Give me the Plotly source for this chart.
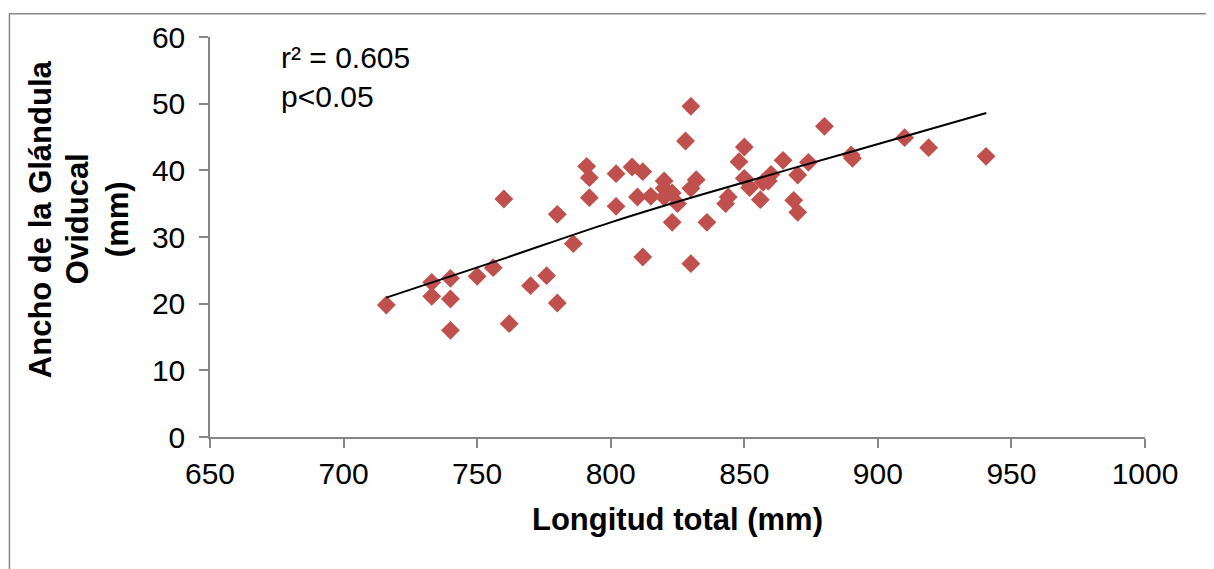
import plotly.graph_objects as go

longitud = [716, 733, 733, 740, 740, 740, 750, 756, 760, 762, 770, 776, 780, 780, 786,
            791, 792, 792, 802, 802, 808, 810, 812, 812, 815, 820, 820, 820, 823, 825,
            823, 828, 830, 830, 830, 832, 836, 843, 844, 848, 850, 850, 852, 856, 857,
            860, 859, 864.5, 868.5, 870, 870, 874, 880, 890, 890.5, 910, 919, 940.5]
ancho = [19.8, 23.2, 21.1, 23.8, 20.7, 16.0, 24.1, 25.4, 35.7, 17.0, 22.7, 24.2, 33.4, 20.1, 29.0,
         40.6, 38.9, 35.9, 39.5, 34.6, 40.5, 36.0, 39.8, 27.0, 36.1, 38.4, 37.3, 36.0, 36.6, 35.0,
         32.2, 44.4, 49.6, 26.0, 37.3, 38.6, 32.2, 35.0, 36.0, 41.3, 43.5, 38.8, 37.4, 35.6, 38.2,
         39.4, 38.4, 41.5, 35.5, 33.7, 39.3, 41.2, 46.6, 42.3, 41.8, 44.9, 43.4, 42.1]

trend_x = [716, 758, 800, 833.5, 890, 940.6]
trend_y = [20.9, 26.5, 32.2, 36.3, 42.8, 48.6]

x_ticks = [650, 700, 750, 800, 850, 900, 950, 1000]
y_ticks = [0, 10, 20, 30, 40, 50, 60]

y_title_lines = ["Ancho de la Glándula", "Oviducal", "(mm)"]
y_title_x = [-0.1818, -0.1422, -0.0995]

FONT = "Liberation Sans, Arial, sans-serif"
AXIS_GRAY = "#868686"

fig = go.Figure()
fig.add_trace(go.Scatter(
    x=longitud, y=ancho, mode="markers",
    marker=dict(symbol="diamond", size=14.5, color="#C0504D", line=dict(width=0)),
    showlegend=False, cliponaxis=False,
))
fig.add_trace(go.Scatter(
    x=trend_x, y=trend_y, mode="lines", line=dict(color="black", width=2, shape="spline"),
    showlegend=False,
))

annotations = [
    dict(text=f"<b>{t}</b>", textangle=-90, xref="paper", yref="paper", x=xp, y=0.5446,
         xanchor="center", yanchor="middle", showarrow=False,
         font=dict(size=31, family=FONT, color="black"))
    for t, xp in zip(y_title_lines, y_title_x)
]
annotations.append(
    dict(text="r² = 0.605<br>p<0.05", xref="paper", yref="paper",
         x=0.0738, y=0.901, xanchor="left", yanchor="middle", align="left",
         showarrow=False, font=dict(size=30, family=FONT, color="black"))
)

fig.update_layout(
    width=1214, height=569,
    margin=dict(l=202, r=77, t=25, b=140),
    paper_bgcolor="white", plot_bgcolor="white",
    font=dict(family=FONT, size=30, color="black"),
    xaxis=dict(
        range=[650, 1000], tickvals=x_ticks, showgrid=False, zeroline=False,
        showline=True, linecolor=AXIS_GRAY, linewidth=1.5,
        ticks="outside", ticklen=9, tickcolor=AXIS_GRAY, tickwidth=1.5,
        tickfont=dict(size=30, family=FONT, color="black"),
        title=dict(text="<b>Longitud total (mm)</b>", font=dict(size=31, family=FONT), standoff=20),
    ),
    yaxis=dict(
        range=[0, 60], tickvals=y_ticks, showgrid=False, zeroline=False,
        showline=True, linecolor=AXIS_GRAY, linewidth=1.5,
        ticks="outside", ticklen=9, tickcolor=AXIS_GRAY, tickwidth=1.5,
        tickfont=dict(size=30, family=FONT, color="black"),
        ticklabelstandoff=8,
    ),
    annotations=annotations,
    shapes=[
        dict(type="rect", xref="paper", yref="paper", x0=-0.2145, y0=-0.6, x1=1.3, y1=1.058,
             line=dict(color="#888888", width=1.5), layer="below"),
    ],
)

fig.write_html("out.html")
